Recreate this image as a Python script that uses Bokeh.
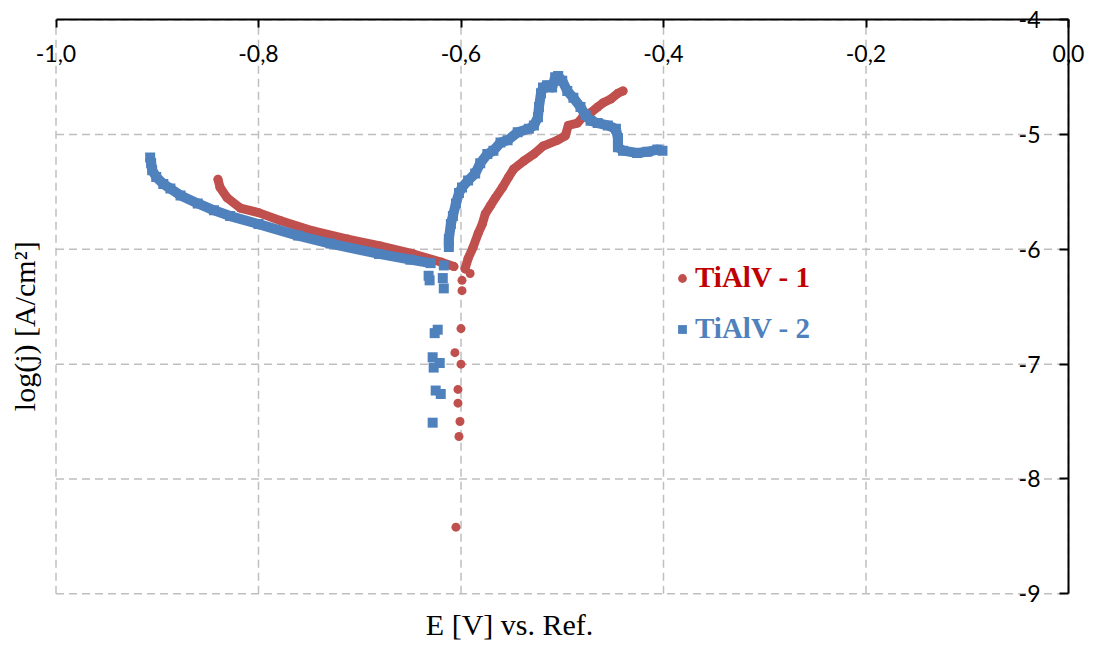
import math

from bokeh.plotting import figure
from bokeh.models import FixedTicker, CustomJSTickFormatter, Label, Legend, LegendItem, Range1d
from bokeh.embed import file_html
from bokeh.resources import INLINE

# ---- TiAlV - 1 (potential in V vs. Ref., log of current density) ----
s1_cath_E = [-0.840, -0.838, -0.831, -0.818, -0.800, -0.778, -0.746, -0.712, -0.680, -0.647, -0.620, -0.607]
s1_cath_logj = [-5.39, -5.46, -5.55, -5.64, -5.68, -5.75, -5.84, -5.91, -5.97, -6.04, -6.11, -6.15]

s1_corr_E = [-0.599, -0.599, -0.591, -0.600, -0.606, -0.600, -0.603, -0.603, -0.601, -0.602, -0.605]
s1_corr_logj = [-6.27, -6.36, -6.21, -6.69, -6.90, -7.00, -7.22, -7.34, -7.50, -7.63, -8.42]

s1_anod_E = [-0.596, -0.593, -0.588, -0.583, -0.579, -0.576, -0.571, -0.566, -0.559, -0.553, -0.548, -0.538, -0.528,
             -0.519, -0.505, -0.497, -0.494, -0.485, -0.480, -0.472, -0.465, -0.459, -0.452, -0.445, -0.440]
s1_anod_logj = [-6.17, -6.08, -5.98, -5.86, -5.78, -5.69, -5.62, -5.55, -5.46, -5.37, -5.30, -5.23, -5.17,
                -5.10, -5.05, -5.01, -4.92, -4.90, -4.85, -4.81, -4.76, -4.72, -4.69, -4.64, -4.62]

# ---- TiAlV - 2 ----
s2_cath_E = [-0.907, -0.906, -0.905, -0.901, -0.894, -0.887, -0.877, -0.860, -0.844, -0.828, -0.800, -0.761,
             -0.729, -0.681, -0.650, -0.630]
s2_cath_logj = [-5.20, -5.25, -5.31, -5.37, -5.43, -5.47, -5.53, -5.60, -5.66, -5.71, -5.78, -5.88,
                -5.95, -6.04, -6.09, -6.12]

s2_corr_E = [-0.632, -0.631, -0.618, -0.617, -0.617, -0.623, -0.626, -0.628, -0.621, -0.627, -0.625, -0.620, -0.628]
s2_corr_logj = [-6.23, -6.27, -6.25, -6.14, -6.34, -6.70, -6.73, -6.94, -6.99, -7.03, -7.23, -7.26, -7.51]

s2_anod_E = [-0.612, -0.612, -0.610, -0.608, -0.605, -0.602, -0.599, -0.593, -0.586, -0.581, -0.574, -0.568,
             -0.561, -0.554, -0.544, -0.533, -0.528, -0.524, -0.523, -0.521, -0.519, -0.515, -0.510, -0.507,
             -0.504, -0.500, -0.495, -0.489, -0.482, -0.477, -0.472, -0.465, -0.455, -0.447, -0.445, -0.445,
             -0.440, -0.426, -0.416, -0.406, -0.401]
s2_anod_logj = [-5.98, -5.91, -5.78, -5.71, -5.60, -5.51, -5.46, -5.40, -5.34, -5.25, -5.17, -5.14,
                -5.07, -5.05, -4.98, -4.95, -4.92, -4.85, -4.76, -4.64, -4.59, -4.57, -4.59, -4.50,
                -4.49, -4.53, -4.62, -4.68, -4.76, -4.83, -4.88, -4.90, -4.92, -4.95, -5.03, -5.11,
                -5.14, -5.16, -5.15, -5.13, -5.14]

series_names = ["TiAlV - 1", "TiAlV - 2"]

x_ticks = [-1.0, -0.8, -0.6, -0.4, -0.2, 0.0]
x_tick_labels = ["-1,0", "-0,8", "-0,6", "-0,4", "-0,2", "0,0"]
y_ticks = [-9, -8, -7, -6, -5, -4]
y_tick_labels = ["-9", "-8", "-7", "-6", "-5", "-4"]

x_title = "E [V] vs. Ref."
y_title = "log(j) [A/cm²]"

RED = "#C0504D"
BLUE = "#4F81BD"
RED_TEXT = "#C00000"
BLUE_TEXT = "#4F81BD"
GRID = "#BFBFBF"

# canvas size and where the plotting box sits inside it (pixels from top-left)
W, H = 1094, 646
BOX_L, BOX_R, BOX_T, BOX_B = 55.5, 1068.0, 19.3, 593.2

xmin, xmax = x_ticks[0], x_ticks[-1]
ymin, ymax = y_ticks[0], y_ticks[-1]
sx = (xmax - xmin) / (BOX_R - BOX_L)
sy = (ymax - ymin) / (BOX_B - BOX_T)
# the frame covers the whole canvas so the axes drawn on the box edges never get clipped
x_range = Range1d(xmin - BOX_L * sx, xmax + (W - BOX_R) * sx)
y_range = Range1d(ymin - (H - BOX_B) * sy, ymax + BOX_T * sy)

p = figure(width=W, height=H, x_range=x_range, y_range=y_range,
           output_backend="svg", toolbar_location=None,
           min_border_left=0, min_border_right=0, min_border_top=0, min_border_bottom=0)
p.outline_line_color = None
p.background_fill_color = "white"
p.border_fill_color = "white"
p.grid.visible = False

label_code = """
let best = 0;
for (let i = 1; i < tvals.length; i++) {
  if (Math.abs(tvals[i] - tick) < Math.abs(tvals[best] - tick)) best = i;
}
return tlabels[best];
"""

# dashed grid, limited to the plotting box
n_x, n_y = len(x_ticks), len(y_ticks)
p.segment(x0=x_ticks, y0=[ymin] * n_x, x1=x_ticks, y1=[ymax] * n_x,
          line_color=GRID, line_width=1.5, line_dash="8 5")
p.segment(x0=[xmin] * n_y, y0=y_ticks, x1=[xmax] * n_y, y1=y_ticks,
          line_color=GRID, line_width=1.5, line_dash="8 5")

# x axis sits on the top edge (log j = -4), labels hang below it
xa = p.xaxis[0]
xa.fixed_location = ymax
xa.bounds = (xmin, xmax)
xa.ticker = FixedTicker(ticks=x_ticks)
xa.formatter = CustomJSTickFormatter(args=dict(tvals=x_ticks, tlabels=x_tick_labels), code=label_code)
# y axis sits on the right edge (E = 0), labels to its left
ya = p.yaxis[0]
ya.fixed_location = xmax
ya.bounds = (ymin, ymax)
ya.ticker = FixedTicker(ticks=y_ticks)
ya.formatter = CustomJSTickFormatter(args=dict(tvals=y_ticks, tlabels=y_tick_labels), code=label_code)

for ax in (xa, ya):
    ax.axis_line_color = "black"
    ax.axis_line_width = 2
    ax.major_tick_line_color = "black"
    ax.major_tick_line_width = 2
    ax.major_tick_in = 0
    ax.minor_tick_line_color = None
    ax.major_label_text_font = "Lato"
    ax.major_label_text_font_size = "23px"
    ax.major_label_text_color = "black"
xa.major_tick_out = 8
xa.major_label_standoff = 17
ya.major_tick_out = 9
ya.major_label_standoff = 19

# TiAlV - 1
p.line(s1_cath_E, s1_cath_logj, line_width=9, color=RED, line_join="round", line_cap="round")
p.line(s1_anod_E, s1_anod_logj, line_width=9, color=RED, line_join="round", line_cap="round")
r1 = p.scatter(s1_cath_E + s1_corr_E + s1_anod_E, s1_cath_logj + s1_corr_logj + s1_anod_logj,
               marker="circle", size=9, fill_color=RED, line_color=None)

# TiAlV - 2
p.line(s2_cath_E, s2_cath_logj, line_width=10, color=BLUE, line_join="round")
p.line(s2_anod_E, s2_anod_logj, line_width=10, color=BLUE, line_join="round")
r2 = p.scatter(s2_cath_E + s2_corr_E + s2_anod_E, s2_cath_logj + s2_corr_logj + s2_anod_logj,
               marker="square", size=10, fill_color=BLUE, line_color=None)

# one legend per series so each label carries its series colour
for name, rend, tcol, loc in ((series_names[0], r1, RED_TEXT, (671, 352)),
                              (series_names[1], r2, BLUE_TEXT, (671, 301))):
    leg = Legend(items=[LegendItem(label=name, renderers=[rend])], location=loc,
                 background_fill_alpha=0, border_line_color=None,
                 padding=0, margin=0, spacing=0,
                 glyph_width=22, glyph_height=30, label_standoff=2, label_height=30,
                 label_text_font="Liberation Serif", label_text_font_style="bold",
                 label_text_font_size="29px", label_text_color=tcol)
    p.add_layout(leg)

p.add_layout(Label(x=-0.552, y=-9.268, text=x_title, text_font="Liberation Serif",
                   text_font_size="30px", text_align="center", text_baseline="middle",
                   text_color="black"))
p.add_layout(Label(x=-1.031, y=-6.67, text=y_title, angle=math.pi / 2, text_font="Liberation Serif",
                   text_font_size="30px", text_align="center", text_baseline="middle",
                   text_color="black"))

open("out.html", "w").write(file_html(p, INLINE))
